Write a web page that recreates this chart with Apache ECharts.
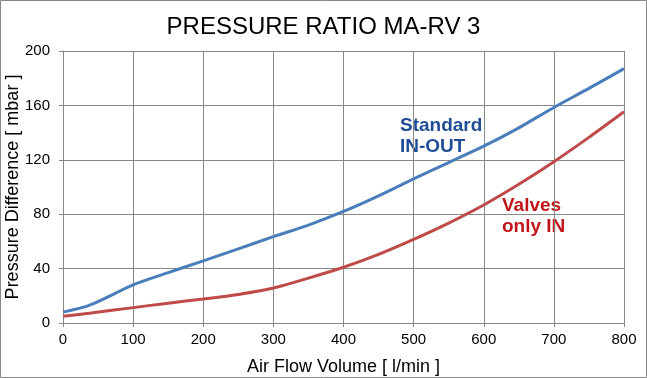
<!DOCTYPE html>
<html>
<head>
<meta charset="utf-8">
<script src="https://cdn.jsdelivr.net/npm/echarts@6/dist/echarts.min.js"></script>
<style>
html,body{margin:0;padding:0;background:#fff;}
#c{width:647px;height:378px;}
</style>
</head>
<body>
<div id="c"></div>
<script>
const flow = [0, 40, 100, 150, 200, 250, 300, 350, 400, 450, 500, 550, 600, 650, 700, 750, 800];
const standardInOut = [8, 13.5, 28, 37, 45.7, 54.5, 63.5, 72, 82, 93.5, 106, 118, 130, 143.5, 158.5, 172.5, 187];
const valvesOnlyIn = [4.9, 7.4, 11.3, 14.6, 17.6, 21, 25.7, 33, 41, 50.5, 61.5, 73.5, 86.8, 102, 118.6, 136.5, 155.3];
const yTicks = [0, 40, 80, 120, 160, 200];
const xTicks = [0, 100, 200, 300, 400, 500, 600, 700, 800];

const FONT = 'Liberation Sans, Arial, sans-serif';
const chart = echarts.init(document.getElementById('c'), null, {renderer: 'canvas'});
const pair = (xs, ys) => xs.map((x, i) => [x, ys[i]]);

chart.setOption({
  animation: false,
  backgroundColor: '#fff',
  title: {
    text: 'PRESSURE RATIO MA-RV 3',
    left: 'center',
    top: 10,
    textStyle: {fontFamily: FONT, fontSize: 24, fontWeight: 'normal', color: '#000'}
  },
  grid: {left: 63, right: 23, top: 51, bottom: 55, containLabel: false, outerBoundsMode: 'none'},
  xAxis: {
    type: 'value',
    min: xTicks[0], max: xTicks[xTicks.length - 1], interval: 100,
    name: 'Air Flow Volume [ l/min ]',
    nameLocation: 'middle',
    nameGap: 35,
    nameMoveOverlap: false,
    nameTextStyle: {fontFamily: FONT, fontSize: 18, color: '#000'},
    axisLine: {show: true, lineStyle: {color: '#888', width: 1}},
    axisTick: {show: true, length: 4, lineStyle: {color: '#888'}},
    axisLabel: {fontFamily: FONT, fontSize: 15, color: '#000', margin: 9},
    splitLine: {show: true, lineStyle: {color: '#888', width: 1}}
  },
  yAxis: {
    type: 'value',
    min: yTicks[0], max: yTicks[yTicks.length - 1], interval: 40,
    name: 'Pressure Difference [ mbar ]',
    nameLocation: 'middle',
    nameGap: 41,
    nameRotate: 90,
    nameMoveOverlap: false,
    nameTextStyle: {fontFamily: FONT, fontSize: 18, color: '#000'},
    axisLine: {show: true, lineStyle: {color: '#888', width: 1}},
    axisTick: {show: true, length: 4, lineStyle: {color: '#888'}},
    axisLabel: {fontFamily: FONT, fontSize: 15, color: '#000', margin: 13},
    splitLine: {show: true, lineStyle: {color: '#888', width: 1}}
  },
  graphic: [
    {type: 'rect', shape: {x: 0.5, y: 0.5, width: 646, height: 377}, style: {fill: 'none', stroke: '#888', lineWidth: 1}, silent: true},
    {type: 'text', left: 400, top: 115, style: {text: 'Standard\nIN-OUT', fontFamily: FONT, fontSize: 19, fontWeight: 'bold', fill: '#1F4E96', lineHeight: 21}},
    {type: 'text', left: 502, top: 195, style: {text: 'Valves\nonly IN', fontFamily: FONT, fontSize: 19, fontWeight: 'bold', fill: '#C0161B', lineHeight: 21}}
  ],
  series: [
    {
      name: 'Standard IN-OUT', type: 'line', smooth: 0.3, showSymbol: false,
      data: pair(flow, standardInOut),
      lineStyle: {color: '#4A7EBB', width: 3},
      itemStyle: {color: '#4A7EBB'}
    },
    {
      name: 'Valves only IN', type: 'line', smooth: 0.3, showSymbol: false,
      data: pair(flow, valvesOnlyIn),
      lineStyle: {color: '#BE4B48', width: 3},
      itemStyle: {color: '#BE4B48'}
    }
  ]
});
</script>
</body>
</html>
